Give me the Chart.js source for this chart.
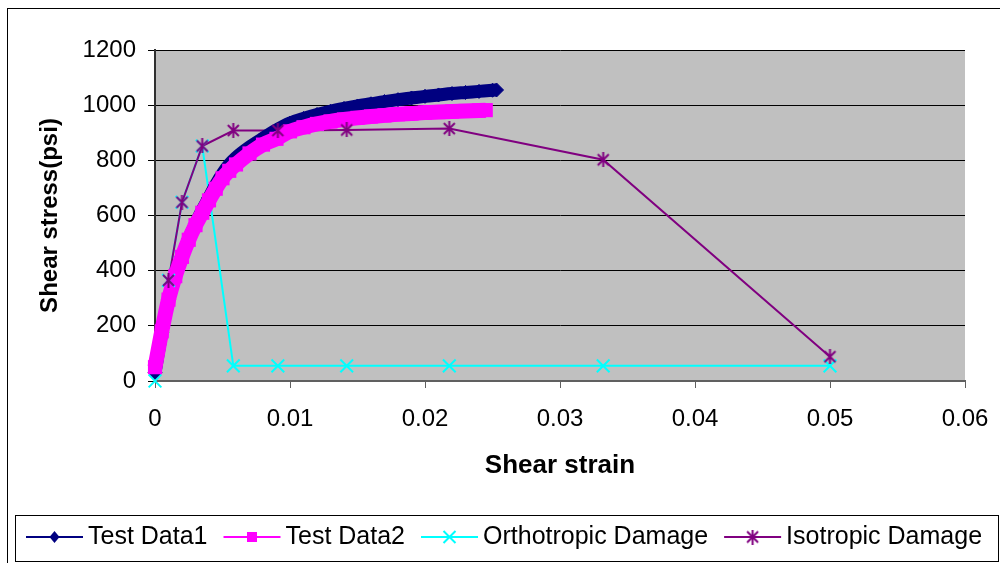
<!DOCTYPE html>
<html>
<head>
<meta charset="utf-8">
<title>Shear stress vs shear strain</title>
<script src="https://cdn.jsdelivr.net/npm/chart.js"></script>
<style>
  html, body { margin: 0; padding: 0; background: #fff; }
  #wrap { width: 1000px; height: 563px; }
</style>
</head>
<body>
<div id="wrap"><canvas id="myChart" width="1000" height="563"></canvas></div>
<script>
// Test Data1 (navy diamonds)
const strain1 = [0, 0.0005, 0.001, 0.0015, 0.002, 0.0025, 0.003, 0.0035, 0.004, 0.0045, 0.005, 0.0055, 0.006, 0.007, 0.008, 0.009,
  0.010, 0.011, 0.012, 0.013, 0.014, 0.015, 0.016, 0.017, 0.018, 0.019, 0.020, 0.021, 0.022, 0.023, 0.024, 0.025, 0.0253];
const stress1 = [30, 175, 295, 382, 452, 515, 570, 620, 665, 712, 752, 785, 810, 848, 880, 910,
  935, 952, 966, 978, 988, 997, 1005, 1013, 1020, 1026, 1032, 1037, 1042, 1046, 1050, 1054, 1055];

// Test Data2 (magenta squares)
const strain2 = [0, 0.0005, 0.001, 0.0015, 0.002, 0.0025, 0.003, 0.0035, 0.004, 0.0045, 0.005, 0.0055, 0.006, 0.007, 0.008, 0.009,
  0.010, 0.011, 0.012, 0.013, 0.014, 0.015, 0.016, 0.017, 0.018, 0.019, 0.020, 0.021, 0.022, 0.023, 0.024, 0.0245];
const stress2 = [50, 180, 295, 380, 450, 512, 565, 610, 655, 697, 735, 762, 785, 825, 857, 878,
  905, 920, 932, 941, 948, 954, 959, 963, 967, 970, 973, 975, 977, 979, 981, 982];

// model predictions
const strainOrtho = [0, 0.001, 0.002, 0.0035, 0.0058, 0.0091, 0.0142, 0.0218, 0.0332, 0.05];
const stressOrtho = [0, 365, 648, 852, 55, 55, 55, 55, 55, 55];
const strainIso = [0.001, 0.002, 0.0035, 0.0058, 0.0091, 0.0142, 0.0218, 0.0332, 0.05];
const stressIso = [365, 648, 852, 908, 908, 910, 915, 802, 88];

const xTickValues = [0, 0.01, 0.02, 0.03, 0.04, 0.05, 0.06];
const yTickValues = [0, 200, 400, 600, 800, 1000, 1200];
const seriesNames = ['Test Data1', 'Test Data2', 'Orthotropic Damage', 'Isotropic Damage'];
const seriesColors = ['#000080', '#FF00FF', '#00FFFF', '#800080'];

Chart.defaults.font.family = '"Liberation Sans", Arial, sans-serif';
Chart.defaults.color = '#000';

function toPoints(xs, ys) {
  return xs.map((x, i) => ({ x: x, y: ys[i] }));
}

// old Excel star marker: an X with a vertical bar through it
function makeStar(color) {
  const c = document.createElement('canvas');
  c.width = 15; c.height = 15;
  const g = c.getContext('2d');
  g.strokeStyle = color;
  g.lineWidth = 2;
  g.beginPath();
  g.moveTo(2, 2); g.lineTo(13, 13);
  g.moveTo(13, 2); g.lineTo(2, 13);
  g.moveTo(7.5, 0); g.lineTo(7.5, 15);
  g.stroke();
  return c;
}
const starImg = makeStar(seriesColors[3]);

function drawLegendMarker(ctx, i, x, y) {
  const col = seriesColors[i];
  ctx.save();
  ctx.fillStyle = col;
  ctx.strokeStyle = col;
  if (i === 0) {
    ctx.beginPath();
    ctx.moveTo(x - 5, y); ctx.lineTo(x, y - 6); ctx.lineTo(x + 5, y); ctx.lineTo(x, y + 6);
    ctx.closePath();
    ctx.fill();
  } else if (i === 1) {
    ctx.fillRect(x - 5, y - 5, 10, 10);
  } else if (i === 2) {
    ctx.lineWidth = 2;
    ctx.beginPath();
    ctx.moveTo(x - 6, y - 6); ctx.lineTo(x + 6, y + 6);
    ctx.moveTo(x + 6, y - 6); ctx.lineTo(x - 6, y + 6);
    ctx.stroke();
  } else {
    ctx.drawImage(starImg, x - 7.5, y - 7.5);
  }
  ctx.restore();
}

// grey plot area, outer frames and the boxed legend at the bottom
const chartDecor = {
  id: 'chartDecor',
  beforeDraw(chart) {
    const { ctx, chartArea: a } = chart;
    ctx.save();
    ctx.fillStyle = '#C0C0C0';
    ctx.fillRect(a.left, a.top, a.right - a.left, a.bottom - a.top);
    ctx.restore();
  },
  afterDraw(chart) {
    const ctx = chart.ctx;
    ctx.save();
    ctx.strokeStyle = '#000';
    ctx.lineWidth = 1;
    ctx.strokeRect(7.5, 8.5, 1000, 600);
    ctx.strokeRect(15.5, 515.5, 983, 46);

    ctx.font = '25px "Liberation Sans", Arial, sans-serif';
    ctx.textBaseline = 'middle';
    ctx.fillStyle = '#000';
    let x = 26;
    const y = 537;
    seriesNames.forEach((name, i) => {
      ctx.strokeStyle = seriesColors[i];
      ctx.lineWidth = 2;
      ctx.beginPath();
      ctx.moveTo(x, y); ctx.lineTo(x + 57, y);
      ctx.stroke();
      drawLegendMarker(ctx, i, x + 28.5, y);
      ctx.fillStyle = '#000';
      ctx.fillText(name, x + 62, y);
      x += 62 + ctx.measureText(name).width + 16;
    });
    ctx.restore();
  }
};

const ctx = document.getElementById('myChart').getContext('2d');
const myChart = new Chart(ctx, {
  type: 'scatter',
  data: {
    datasets: [
      { // Test Data1
        data: toPoints(strain1, stress1), showLine: true, order: 4, clip: false,
        borderColor: seriesColors[0], borderWidth: 13, cubicInterpolationMode: 'monotone',
        pointStyle: 'rectRot', pointRadius: 7, pointBorderWidth: 1,
        pointBackgroundColor: seriesColors[0], pointBorderColor: seriesColors[0]
      },
      { // Test Data2
        data: toPoints(strain2, stress2), showLine: true, order: 3, clip: false,
        borderColor: seriesColors[1], borderWidth: 15, cubicInterpolationMode: 'monotone',
        pointStyle: 'rect', pointRadius: 10, pointBorderWidth: 0,
        pointBackgroundColor: seriesColors[1], pointBorderColor: seriesColors[1]
      },
      { // Orthotropic line (under the test data, like Excel)
        data: toPoints(strainOrtho, stressOrtho), showLine: true, order: 6, clip: false,
        borderColor: seriesColors[2], borderWidth: 2, pointRadius: 0
      },
      { // Isotropic line
        data: toPoints(strainIso, stressIso), showLine: true, order: 5, clip: false,
        borderColor: seriesColors[3], borderWidth: 2, pointRadius: 0
      },
      { // Orthotropic markers
        data: toPoints(strainOrtho, stressOrtho), showLine: false, order: 2, clip: false,
        pointStyle: 'crossRot', pointRadius: 9, pointBorderWidth: 2,
        pointBorderColor: seriesColors[2], pointBackgroundColor: seriesColors[2]
      },
      { // Isotropic markers
        data: toPoints(strainIso, stressIso), showLine: false, order: 1, clip: false,
        pointStyle: starImg, pointRadius: 7
      }
    ]
  },
  options: {
    responsive: false,
    animation: false,
    events: [],
    layout: { padding: { left: 24, top: 50, right: 35, bottom: 72 } },
    plugins: { legend: { display: false }, tooltip: { enabled: false } },
    scales: {
      x: {
        type: 'linear', min: 0, max: 0.06,
        afterBuildTicks: s => { s.ticks = xTickValues.map(v => ({ value: v })); },
        afterFit: s => { s.height = 110; s.paddingLeft = 0; s.paddingRight = 0; },
        ticks: { font: { size: 24 }, padding: 17, maxRotation: 0, callback: v => String(v) },
        grid: { drawOnChartArea: false, tickLength: 7, color: '#606060' },
        border: { color: '#606060', width: 2 },
        title: { display: true, text: 'Shear strain', font: { size: 26, weight: 'bold' }, padding: { top: 0, bottom: 10 } }
      },
      y: {
        type: 'linear', min: 0, max: 1200,
        afterBuildTicks: s => { s.ticks = yTickValues.map(v => ({ value: v })); },
        afterFit: s => { s.width = 131; s.paddingTop = 0; s.paddingBottom = 0; },
        ticks: { font: { size: 24 }, padding: 12, callback: v => String(v) },
        grid: { color: '#000', lineWidth: 1, tickLength: 7 },
        border: { color: '#303030', width: 2 },
        title: { display: true, text: 'Shear stress(psi)', font: { size: 24, weight: 'bold' }, padding: { top: 12, bottom: 0 } }
      }
    }
  },
  plugins: [chartDecor]
});
</script>
</body>
</html>
